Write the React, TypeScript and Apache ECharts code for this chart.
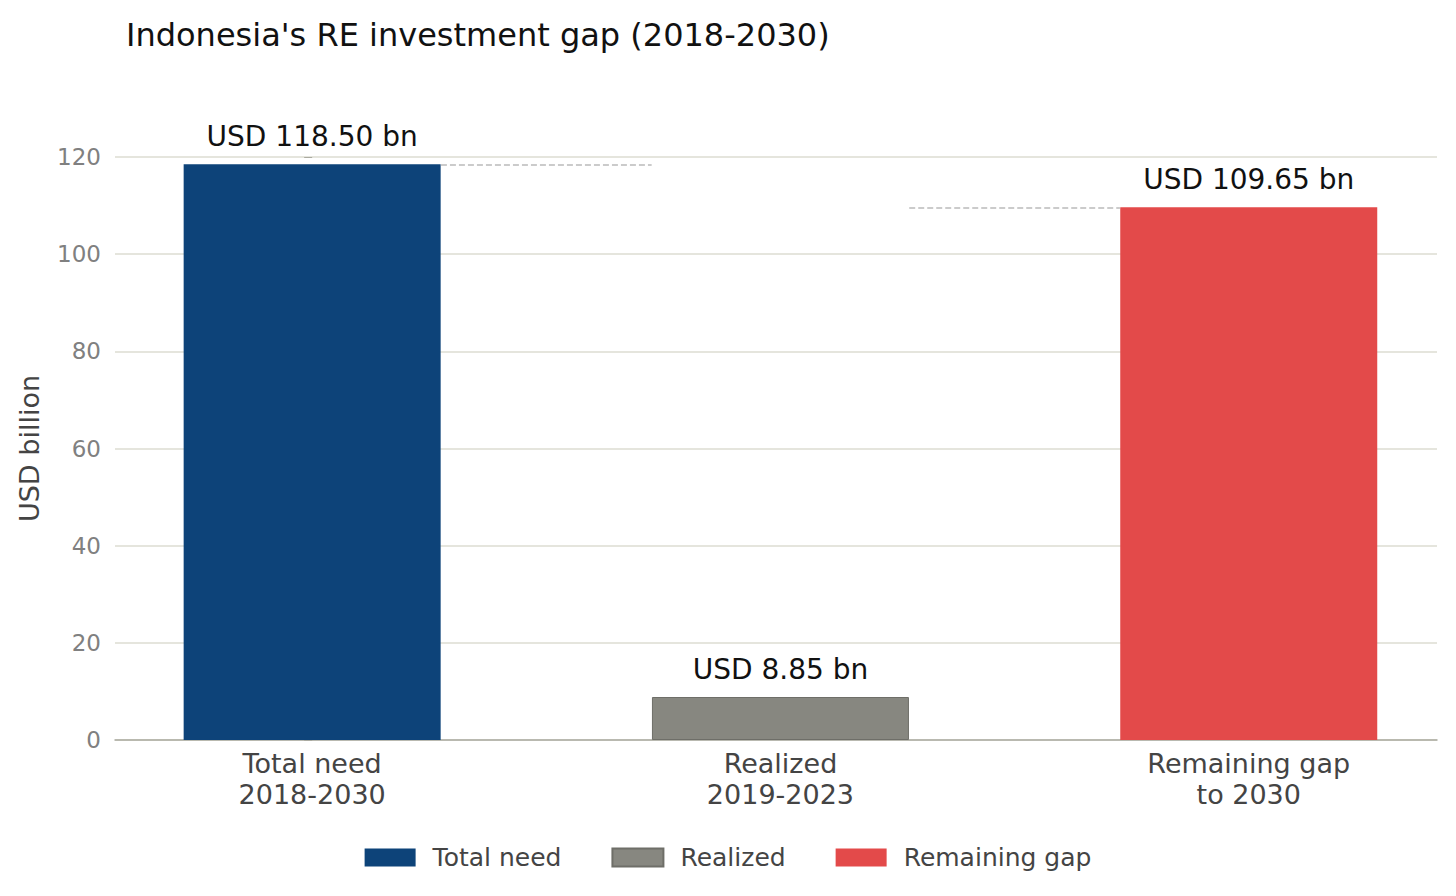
import { useEffect, useRef } from 'react'
import * as echarts from 'echarts'

const categories = ['Total need\n2018-2030', 'Realized\n2019-2023', 'Remaining gap\nto 2030']
const positions = [0, 1, 2]
const baseValues = [0, 109.65, 0]
const totalNeed = [118.5, '-', '-']
const realized = ['-', 8.85, '-']
const remainingGap = ['-', '-', 109.65]
const barLabels = ['USD 118.50 bn', 'USD 8.85 bn', 'USD 109.65 bn']
const yTicks = { min: 0, max: 120, interval: 20 }

const FONT = 'DejaVu Sans'
const HALF = 0.275 // half of bar width in x units

export default function App() {
  const ref = useRef<HTMLDivElement>(null)

  useEffect(() => {
    if (!ref.current) return
    const chart = echarts.init(ref.current, undefined, { renderer: 'svg' })

    const pairs = (arr: any[]) => arr.map((v, i) => [positions[i], v])

    const label = (i: number) => ({
      show: true,
      position: 'top' as const,
      distance: 14,
      formatter: () => barLabels[i],
      color: '#111',
      fontSize: 28,
      fontFamily: FONT,
    })

    const bar = (name: string, data: any[], color: string, i: number) => ({
      name,
      type: 'bar' as const,
      stack: 'w',
      data: pairs(data),
      barWidth: 257,
      itemStyle: { color, borderColor: i === 1 ? '#6e6e68' : color, borderWidth: i === 1 ? 1 : 0 },
      label: label(i),
      z: 3,
    })

    chart.setOption({
      animation: false,
      title: {
        text: "Indonesia's RE investment gap (2018-2030)",
        left: 113,
        top: 6,
        textStyle: { fontFamily: FONT, fontSize: 32, fontWeight: 'normal', color: '#111' },
      },
      legend: {
        top: 832,
        left: 'center',
        itemWidth: 51,
        itemHeight: 18,
        itemGap: 50,
        icon: 'rect',
        data: ['Total need', 'Realized', 'Remaining gap'],
        textStyle: { fontFamily: FONT, fontSize: 25, color: '#444', padding: [0, 0, 0, 12] },
      },
      grid: { left: 107, right: 11, top: 149, bottom: 148 },
      xAxis: {
        type: 'value',
        min: -0.421,
        max: 2.402,
        splitLine: { show: false },
        axisLine: { onZero: false, lineStyle: { color: '#aaaaa0', width: 1.5 } },
        axisTick: { show: false },
        axisLabel: {
          customValues: positions,
          formatter: (v: number) => categories[Math.round(v)] ?? '',
          fontFamily: FONT,
          fontSize: 27,
          color: '#444',
          margin: 8,
          lineHeight: 31,
        },
      },
      yAxis: {
        type: 'value',
        ...yTicks,
        name: 'USD billion',
        nameLocation: 'middle',
        nameGap: 72,
        nameTextStyle: { fontFamily: FONT, fontSize: 27, color: '#444' },
        axisLine: { show: false },
        axisTick: { show: true, length: 8, lineStyle: { color: '#aaaaa0' } },
        axisLabel: { fontFamily: FONT, fontSize: 23, color: '#808080', margin: 14 },
        splitLine: { lineStyle: { color: '#dcdcd2', width: 1.5 } },
      },
      series: [
        {
          name: 'base',
          type: 'bar',
          stack: 'w',
          data: pairs(baseValues),
          barWidth: 257,
          itemStyle: { color: 'transparent' },
          silent: true,
          z: 1,
          markLine: {
            symbol: 'none',
            silent: true,
            label: { show: false },
            lineStyle: { type: 'dashed', color: '#bbbbbb', width: 1.5 },
            data: [
              [{ coord: [positions[0] + HALF, totalNeed[0]] }, { coord: [positions[1] - HALF, totalNeed[0]] }],
              [{ coord: [positions[1] + HALF, remainingGap[2]] }, { coord: [positions[2] - HALF, remainingGap[2]] }],
            ],
          },
        },
        bar('Total need', totalNeed, '#0d4379', 0),
        bar('Realized', realized, '#878780', 1),
        bar('Remaining gap', remainingGap, '#e34a4a', 2),
      ],
    })

    return () => chart.dispose()
  }, [])

  return <div ref={ref} style={{ width: 1440, height: 880 }} />
}
